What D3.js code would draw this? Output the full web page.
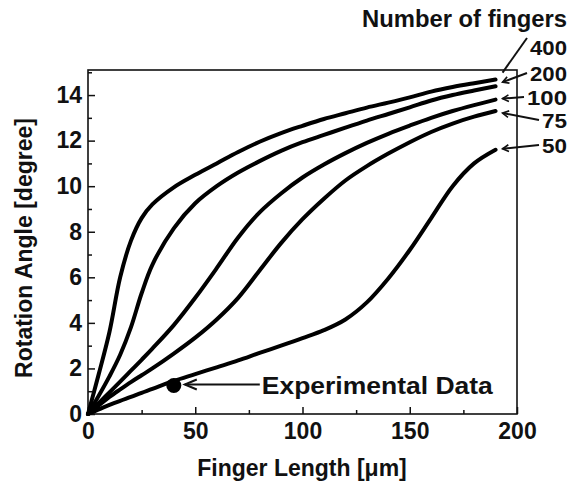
<!DOCTYPE html>
<html><head><meta charset="utf-8">
<script src="https://cdn.jsdelivr.net/npm/d3@7"></script>
<style>
html,body{margin:0;padding:0;background:#fff;}
text{font-family:"Liberation Sans",Arial,Helvetica,sans-serif;font-weight:bold;fill:#111;}
</style></head>
<body>
<svg id="chart" width="575" height="487"></svg>
<script>
// ---- data ----
const fingerCounts = ["400", "200", "100", "75", "50"];
const lengths = [0, 5, 10, 15, 20, 25, 30, 40, 50, 60, 70, 80, 90, 100, 110, 120, 130, 140, 150, 160, 170, 180, 190];
const angle400 = [0, 1.75, 3.6, 6.0, 7.6, 8.6, 9.2, 9.95, 10.5, 11.0, 11.5, 11.95, 12.33, 12.65, 12.95, 13.2, 13.45, 13.67, 13.9, 14.15, 14.35, 14.52, 14.68];
const angle200 = [0, 0.8, 1.65, 2.6, 3.8, 5.3, 6.55, 8.15, 9.25, 10.0, 10.6, 11.1, 11.55, 11.93, 12.25, 12.57, 12.88, 13.17, 13.46, 13.76, 14.0, 14.2, 14.39];
const angle100 = [0, 0.48, 0.95, 1.42, 1.9, 2.38, 2.87, 3.9, 5.1, 6.4, 7.75, 8.85, 9.68, 10.38, 10.95, 11.45, 11.9, 12.3, 12.66, 13.0, 13.3, 13.56, 13.8];
const angle75 = [0, 0.38, 0.75, 1.08, 1.4, 1.7, 2.0, 2.65, 3.35, 4.15, 5.1, 6.3, 7.5, 8.55, 9.45, 10.25, 10.88, 11.43, 11.93, 12.38, 12.75, 13.05, 13.3];
const angle50 = [0, 0.2, 0.4, 0.58, 0.75, 0.93, 1.1, 1.45, 1.75, 2.05, 2.35, 2.68, 3.0, 3.33, 3.68, 4.15, 4.9, 5.95, 7.2, 8.6, 10.0, 11.0, 11.6];
const seriesValues = [angle400, angle200, angle100, angle75, angle50];
const experimental = [{x: 40, y: 1.25}];
const xTicks = [0, 50, 100, 150, 200];
const xMinorTicks = [25, 75, 125, 175];
const yTicks = [0, 2, 4, 6, 8, 10, 12, 14];
const yMinorTicks = [1, 3, 5, 7, 9, 11, 13, 15];

// ---- layout ----
const svg = d3.select("#chart");
const x = d3.scaleLinear().domain([0, 200]).range([88, 517]);
const y = d3.scaleLinear().domain([0, 15.1]).range([414, 70]);

// plot box
svg.append("rect").attr("x", x(0)).attr("y", y(15.1))
  .attr("width", x(200) - x(0)).attr("height", y(0) - y(15.1))
  .attr("fill", "none").attr("stroke", "#111").attr("stroke-width", 1.6);

// axes
function styleAxis(g) {
  g.select(".domain").remove();
  g.selectAll(".tick line").attr("stroke", "#111").attr("stroke-width", 1.5);
  g.selectAll(".tick text").attr("font-size", 23).attr("fill", "#111")
    .attr("font-family", "Liberation Sans, Arial, sans-serif").attr("font-weight", "bold");
}
svg.append("g").attr("transform", `translate(0,${y(0)})`)
  .call(d3.axisBottom(x).tickValues(xTicks).tickFormat(d3.format("d")).tickSizeInner(-7).tickSizeOuter(0).tickPadding(9))
  .call(styleAxis);
svg.append("g").attr("transform", `translate(0,${y(0)})`)
  .call(d3.axisBottom(x).tickValues(xMinorTicks).tickFormat("").tickSizeInner(-4).tickSizeOuter(0))
  .call(styleAxis);
svg.append("g").attr("transform", `translate(${x(0)},0)`)
  .call(d3.axisLeft(y).tickValues(yTicks).tickFormat(d3.format("d")).tickSizeInner(-7).tickSizeOuter(0).tickPadding(6))
  .call(styleAxis);
svg.append("g").attr("transform", `translate(${x(0)},0)`)
  .call(d3.axisLeft(y).tickValues(yMinorTicks.filter(v => v <= 15)).tickFormat("").tickSizeInner(-4).tickSizeOuter(0))
  .call(styleAxis);

// axis titles
svg.append("text").attr("x", 302).attr("y", 476).attr("text-anchor", "middle")
  .attr("font-size", 23).text("Finger Length [μm]");
svg.append("text").attr("transform", `translate(32,${(y(0) + y(15.1)) / 2 + 6}) rotate(-90)`)
  .attr("text-anchor", "middle").attr("font-size", 23).text("Rotation Angle [degree]");

// curves
const line = d3.line().x(d => x(d[0])).y(d => y(d[1])).curve(d3.curveCatmullRom.alpha(0.5));
seriesValues.forEach(vals => {
  svg.append("path").datum(lengths.map((l, i) => [l, vals[i]]))
    .attr("d", line).attr("fill", "none").attr("stroke", "#000")
    .attr("stroke-width", 4).attr("stroke-linecap", "round").attr("stroke-linejoin", "round");
});

// experimental point
svg.selectAll("circle.exp").data(experimental).enter().append("circle")
  .attr("cx", d => x(d.x)).attr("cy", d => y(d.y)).attr("r", 7.5).attr("fill", "#000");

// experimental annotation arrow
const ex = experimental[0];
const ax0 = x(ex.x) + 11, ay = y(ex.y) - 1;
svg.append("line").attr("x1", ax0).attr("y1", ay).attr("x2", ax0 + 75).attr("y2", ay)
  .attr("stroke", "#111").attr("stroke-width", 2);
svg.append("path").attr("d", `M${ax0 + 12},${ay - 5} L${ax0},${ay} L${ax0 + 12},${ay + 5}`)
  .attr("fill", "none").attr("stroke", "#111").attr("stroke-width", 2);
svg.append("text").attr("x", ax0 + 77).attr("y", ay + 9).attr("font-size", 23)
  .attr("textLength", 231).attr("lengthAdjust", "spacingAndGlyphs").text("Experimental Data");

// legend
svg.append("text").attr("x", 567).attr("y", 27).attr("text-anchor", "end")
  .attr("font-size", 23).attr("textLength", 205).attr("lengthAdjust", "spacingAndGlyphs")
  .text("Number of fingers");
const labelBaselines = [55, 81, 105, 128, 153];
const labelWidths = [37, 37, 40, 25, 25];
const leaderDy = [-7, -4, -1, 2, -1];
fingerCounts.forEach((name, i) => {
  const t = svg.append("text").attr("x", 567 - labelWidths[i]).attr("y", labelBaselines[i])
    .attr("font-size", 21).attr("textLength", labelWidths[i]).attr("lengthAdjust", "spacingAndGlyphs")
    .text(name);
  const lx = 567 - labelWidths[i];
  const vals = seriesValues[i];
  const sx = x(lengths[lengths.length - 1]) + 7;
  const sy = y(vals[vals.length - 1]) + leaderDy[i];
  const ex2 = lx - 3, ey2 = i === 0 ? labelBaselines[i] - 17 : labelBaselines[i] - 8;
  svg.append("line").attr("x1", sx).attr("y1", sy).attr("x2", ex2).attr("y2", ey2)
    .attr("stroke", "#111").attr("stroke-width", 2);
  if (i > 0) {
    const ang = Math.atan2(ey2 - sy, ex2 - sx);
    const L = 7, w = 0.5;
    const p1 = [sx + L * Math.cos(ang + w), sy + L * Math.sin(ang + w)];
    const p2 = [sx + L * Math.cos(ang - w), sy + L * Math.sin(ang - w)];
    svg.append("path").attr("d", `M${p1[0]},${p1[1]} L${sx},${sy} L${p2[0]},${p2[1]}`)
      .attr("fill", "none").attr("stroke", "#111").attr("stroke-width", 1.6);
  }
});
</script>
</body></html>
